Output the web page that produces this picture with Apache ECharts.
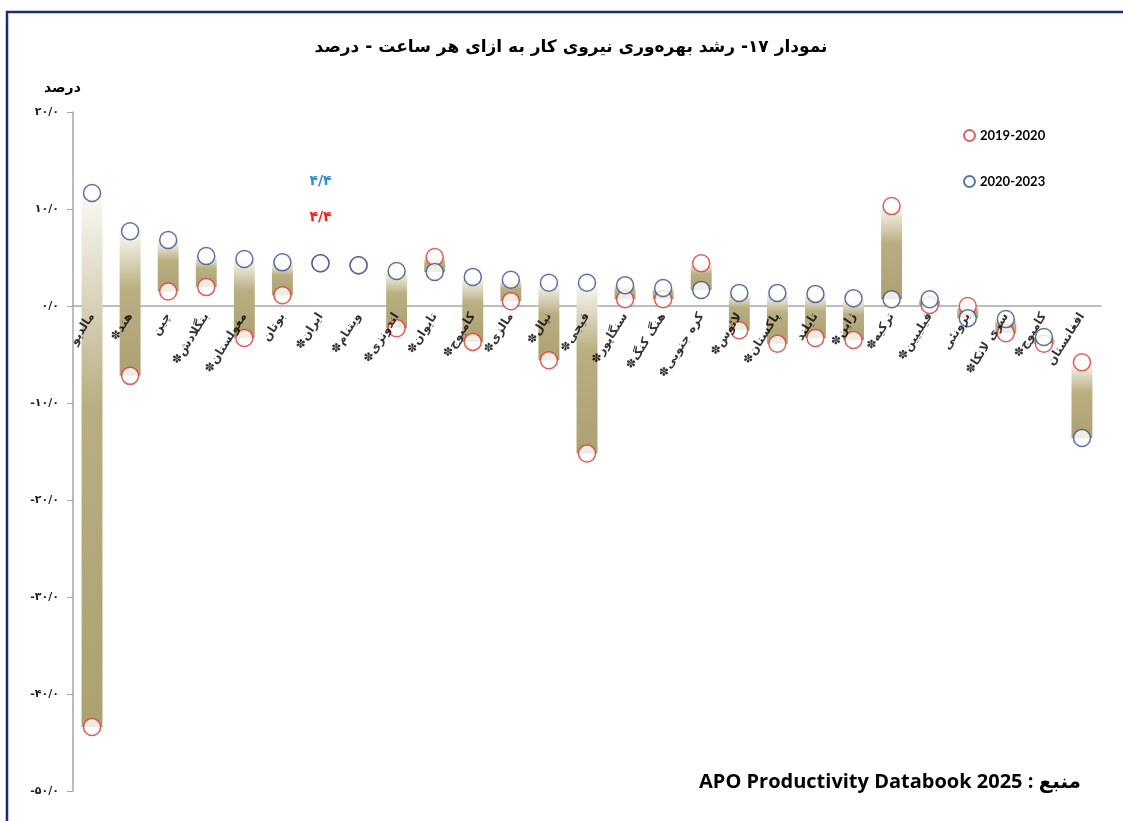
<!DOCTYPE html>
<html>
<head>
<meta charset="utf-8">
<script src="https://cdn.jsdelivr.net/npm/echarts@6/dist/echarts.min.js"></script>
<style>
  html, body { margin: 0; padding: 0; background: #fff; }
  #main { width: 1123px; height: 821px; }
</style>
</head>
<body>
<div id="main"></div>
<script>
// کشورها (ستاره = برآورد)
const countries = ['مالدیو', 'هند', 'چین', 'بنگلادش', 'مغولستان', 'بوتان', 'ایران', 'ویتنام', 'اندونزی',
  'تایوان', 'کامبوج', 'مالزی', 'نپال', 'فیجی', 'سنگاپور', 'هنگ کنگ', 'کره جنوبی', 'لائوس',
  'پاکستان', 'تایلند', 'ژاپن', 'ترکیه', 'فیلیپین', 'برونئی', 'سری لانکا', 'کامبوج', 'افغانستان'];
const starred = [0, 1, 0, 1, 1, 0, 1, 1, 1, 1, 1, 1, 1, 1, 1, 1, 1, 1, 1, 0, 1, 1, 1, 0, 1, 1, 0];

const growth2019 = [-43.4, -7.2, 1.5, 1.95, -3.3, 1.1, 4.4, 4.2, -2.3, 5.05, -3.7, 0.5, -5.6, -15.2,
  0.7, 0.7, 4.4, -2.5, -3.9, -3.3, -3.5, 10.3, 0.1, 0.0, -2.8, -3.9, -5.8];
const growth2020 = [11.65, 7.7, 6.8, 5.15, 4.85, 4.5, 4.4, 4.2, 3.6, 3.5, 3.0, 2.7, 2.4, 2.4,
  2.15, 1.85, 1.65, 1.35, 1.35, 1.25, 0.8, 0.7, 0.7, -1.25, -1.35, -3.2, -13.6];

const iranNote = '۴/۴';

function toFa(v) {
  const d = '۰۱۲۳۴۵۶۷۸۹';
  return String(v).replace(/[0-9]/g, function (c) { return d[+c]; });
}

const labels = countries.map(function (c, i) { return (starred[i] ? '✽' : '') + c; });
const rangeData = countries.map(function (c, i) { return [i, growth2019[i], growth2020[i]]; });
// نام کشورها کنار محور صفر
const labelData = labels.map(function (l, i) { return { value: [i, 0], name: l }; });

const barFill = new echarts.graphic.LinearGradient(0, 0, 0, 1, [
  { offset: 0, color: '#faf9f3' },
  { offset: 0.4, color: '#b9ae82' },
  { offset: 1, color: '#ada173' }
]);

const chart = echarts.init(document.getElementById('main'));
chart.setOption({
  animation: false,
  backgroundColor: '#fff',
  legend: {
    data: ['2019-2020', '2020-2023'],
    orient: 'vertical',
    left: 958,
    top: 124,
    itemGap: 33,
    itemWidth: 11,
    itemHeight: 11,
    textStyle: { fontFamily: 'Lato', fontWeight: 'bold', fontSize: 13, color: '#000' }
  },
  grid: { left: 73, right: 22, top: 112, bottom: 30, outerBoundsMode: 'none', containLabel: false },
  xAxis: {
    type: 'category',
    data: labels,
    axisLine: { onZero: true, lineStyle: { color: '#a6a6a6', width: 1.5 } },
    axisTick: { length: 5, lineStyle: { color: '#a6a6a6' } },
    axisLabel: { show: false }
  },
  yAxis: {
    type: 'value',
    min: -50, max: 20, interval: 10,
    splitLine: { show: false },
    axisLine: { show: true, lineStyle: { color: '#a6a6a6', width: 1.5 } },
    axisTick: { show: true, length: 6, lineStyle: { color: '#a6a6a6' } },
    axisLabel: {
      margin: 14,
      fontFamily: 'DejaVu Sans', fontWeight: 'bold', fontSize: 11, color: '#1a1a2e',
      formatter: function (v) { return (v < 0 ? '-' : '') + toFa(Math.abs(v)) + '/۰'; }
    }
  },
  series: [
    {
      type: 'custom',
      name: 'range',
      data: rangeData,
      encode: { x: 0, y: [1, 2] },
      z: 2,
      renderItem: function (params, api) {
        const a = api.value(1), b = api.value(2);
        if (a === b) return null;
        const top = api.coord([api.value(0), Math.max(a, b)]);
        const bot = api.coord([api.value(0), Math.min(a, b)]);
        const w = api.size([1, 0])[0] * 0.55;
        return {
          type: 'rect',
          shape: { x: top[0] - w / 2, y: top[1], width: w, height: bot[1] - top[1] },
          style: { fill: barFill }
        };
      }
    },
    {
      type: 'scatter',
      name: '2019-2020',
      data: growth2019,
      symbol: 'circle',
      symbolSize: 17,
      z: 3,
      itemStyle: { color: '#fff', borderColor: '#de3434', borderWidth: 1.5 },
      markPoint: {
        symbol: 'circle', symbolSize: 1,
        itemStyle: { color: 'rgba(0,0,0,0)' },
        label: { show: true, position: 'inside', formatter: iranNote, color: '#ff1a1a',
          fontFamily: 'DejaVu Sans', fontWeight: 'bold', fontSize: 14 },
        data: [{ coord: [6, 9.1] }]
      }
    },
    {
      type: 'scatter',
      name: '2020-2023',
      data: growth2020,
      symbol: 'circle',
      symbolSize: 17,
      z: 4,
      itemStyle: { color: '#fff', borderColor: '#31508f', borderWidth: 1.5 },
      markPoint: {
        symbol: 'circle', symbolSize: 1,
        itemStyle: { color: 'rgba(0,0,0,0)' },
        label: { show: true, position: 'inside', formatter: iranNote, color: '#2e8bd8',
          fontFamily: 'DejaVu Sans', fontWeight: 'bold', fontSize: 14 },
        data: [{ coord: [6, 12.9] }]
      }
    },
    {
      type: 'scatter',
      name: 'labels',
      data: labelData,
      symbolSize: 0,
      silent: true,
      z: 5,
      label: {
        show: true,
        formatter: '{b}',
        position: 'bottom',
        distance: 8,
        rotate: 58,
        align: 'right',
        verticalAlign: 'middle',
        fontFamily: 'DejaVu Sans', fontWeight: 'bold', fontSize: 12, color: '#000'
      }
    }
  ],
  graphic: [
    {
      type: 'polyline',
      shape: { points: [[7, 821], [7, 12], [1123, 12]] },
      style: { stroke: '#1b2d6b', lineWidth: 2.5, fill: null }
    },
    {
      type: 'text',
      x: 571, y: 48,
      style: { text: 'نمودار ۱۷- رشد بهره‌وری نیروی کار به ازای هر ساعت - درصد',
        font: 'bold 17px "DejaVu Sans"', fill: '#000', align: 'center', verticalAlign: 'middle' }
    },
    {
      type: 'text',
      left: 44, top: 81,
      style: { text: 'درصد', font: 'bold 14px "DejaVu Sans"', fill: '#000' }
    },
    {
      type: 'text',
      right: 42, top: 772,
      style: { text: 'APO Productivity Databook 2025 : منبع', font: 'bold 20px "Open Sans", "DejaVu Sans"', fill: '#000' }
    }
  ]
});
</script>
</body>
</html>
